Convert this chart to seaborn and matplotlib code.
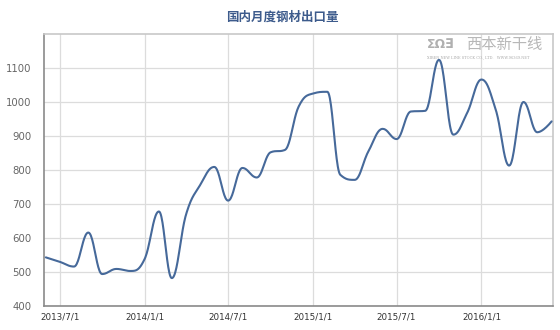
import numpy as np
import pandas as pd
import matplotlib
matplotlib.use("Agg")
import matplotlib.pyplot as plt
import matplotlib.dates as mdates
import seaborn as sns

# Monthly steel exports (10k tonnes), Jun 2013 - Jun 2016
months = pd.date_range("2013-06-01", "2016-06-01", freq="MS")
exports = [543, 530, 516, 616, 494, 509, 503, 538, 678, 482, 670, 755, 809,
           710, 806, 778, 852, 859, 987, 1025, 1030, 786, 771, 855, 921,
           891, 972, 974, 1124, 904, 968, 1066, 977, 813, 1000, 911, 943]
y_ticks = [400, 500, 600, 700, 800, 900, 1000, 1100]
x_ticks = ["2013-07-01", "2014-01-01", "2014-07-01", "2015-01-01",
           "2015-07-01", "2016-01-01"]
x_tick_labels = ["2013/7/1", "2014/1/1", "2014/7/1", "2015/1/1",
                 "2015/7/1", "2016/1/1"]
title = "国内月度钢材出口量"

LINE = "#46699a"
GRID = "#dcdcdc"


def spline_path(x, y, smoothing=1.5, steps=24):
    """Smooth curve through every point, with flat tangents at extremes."""
    n = len(x)
    lcx, lcy = x.astype(float).copy(), y.astype(float).copy()
    rcx, rcy = x.astype(float).copy(), y.astype(float).copy()
    d = smoothing + 1
    for i in range(1, n - 1):
        px, py = x[i], y[i]
        lx, ly = x[i - 1], y[i - 1]
        nx, ny = x[i + 1], y[i + 1]
        lcx_, lcy_ = (smoothing * px + lx) / d, (smoothing * py + ly) / d
        rcx_, rcy_ = (smoothing * px + nx) / d, (smoothing * py + ny) / d
        corr = (rcy_ - lcy_) * (rcx_ - px) / (rcx_ - lcx_) + py - rcy_
        lcy_ += corr
        rcy_ += corr
        if lcy_ > ly and lcy_ > py:
            lcy_ = max(ly, py); rcy_ = 2 * py - lcy_
        elif lcy_ < ly and lcy_ < py:
            lcy_ = min(ly, py); rcy_ = 2 * py - lcy_
        if rcy_ > ny and rcy_ > py:
            rcy_ = max(ny, py); lcy_ = 2 * py - rcy_
        elif rcy_ < ny and rcy_ < py:
            rcy_ = min(ny, py); lcy_ = 2 * py - rcy_
        lcx[i], lcy[i], rcx[i], rcy[i] = lcx_, lcy_, rcx_, rcy_
    t = np.linspace(0, 1, steps)[:, None]
    xs, ys = [x[:1].astype(float)], [y[:1].astype(float)]
    for i in range(1, n):
        P = np.array([[x[i - 1], y[i - 1]], [rcx[i - 1], rcy[i - 1]],
                      [lcx[i], lcy[i]], [x[i], y[i]]], dtype=float)
        B = ((1 - t) ** 3) * P[0] + 3 * ((1 - t) ** 2) * t * P[1] \
            + 3 * (1 - t) * t ** 2 * P[2] + t ** 3 * P[3]
        xs.append(B[1:, 0]); ys.append(B[1:, 1])
    return np.concatenate(xs), np.concatenate(ys)


sns.set_style("white")
plt.rcParams["font.family"] = ["Noto Sans CJK SC", "DejaVu Sans"]

fig = plt.figure(figsize=(5.6, 3.3), dpi=100)
ax = fig.add_axes([44 / 560, 1 - 306 / 330, 509 / 560, 272 / 330])

xnum = mdates.date2num(months.to_pydatetime())
sx, sy = spline_path(np.asarray(xnum), np.asarray(exports, dtype=float))
curve = pd.DataFrame({"date": sx, "value": sy})
sns.lineplot(data=curve, x="date", y="value", sort=False, estimator=None,
             color=LINE, linewidth=1.5, ax=ax, zorder=3)

ax.set_xlim(xnum[0] - 4, xnum[-1] + 3)
ax.set_ylim(400, 1200)
ax.set_yticks(y_ticks)
ax.set_yticklabels([str(v) for v in y_ticks])
xt = mdates.date2num(pd.to_datetime(x_ticks).to_pydatetime())
ax.set_xticks(xt)
ax.set_xticklabels(x_tick_labels)
ax.set_xlabel("")
ax.set_ylabel("")

ax.grid(True, color=GRID, linewidth=0.9)
ax.set_axisbelow(True)
for side in ["top", "right"]:
    ax.spines[side].set_color("#c8c8c8")
    ax.spines[side].set_linewidth(1.2)
for side in ["left", "bottom"]:
    ax.spines[side].set_color("#8a8a8a")
    ax.spines[side].set_linewidth(1.2)

ax.tick_params(axis="y", length=0, pad=9, labelsize=7.3, labelcolor="#666666")
ax.tick_params(axis="x", length=0, pad=5, labelsize=6.3, labelcolor="#333333")
for lab in ax.get_yticklabels() + ax.get_xticklabels():
    lab.set_family("DejaVu Sans")

fig.text(282 / 560, 1 - 17.5 / 330, title, ha="center", va="center",
         fontsize=9, fontweight="bold", color="#3d5b8c")

# watermark
fig.text(466 / 560, 1 - 45 / 330, "西本新干线", ha="left", va="center",
         fontsize=11, color="#b8b8b8")
fig.text(427 / 560, 1 - 45 / 330, "ΣΩ∃", ha="left", va="center",
         fontsize=9, fontweight="bold", color="#b0b0b0", family="DejaVu Sans")
fig.text(427 / 560, 1 - 57 / 330, "XIBEN NEW LINE STOCK CO., LTD.   WWW.96369.NET",
         ha="left", va="center", fontsize=2.6, color="#a8a8a8",
         family="DejaVu Serif")

fig.savefig("out.png", dpi=100)
